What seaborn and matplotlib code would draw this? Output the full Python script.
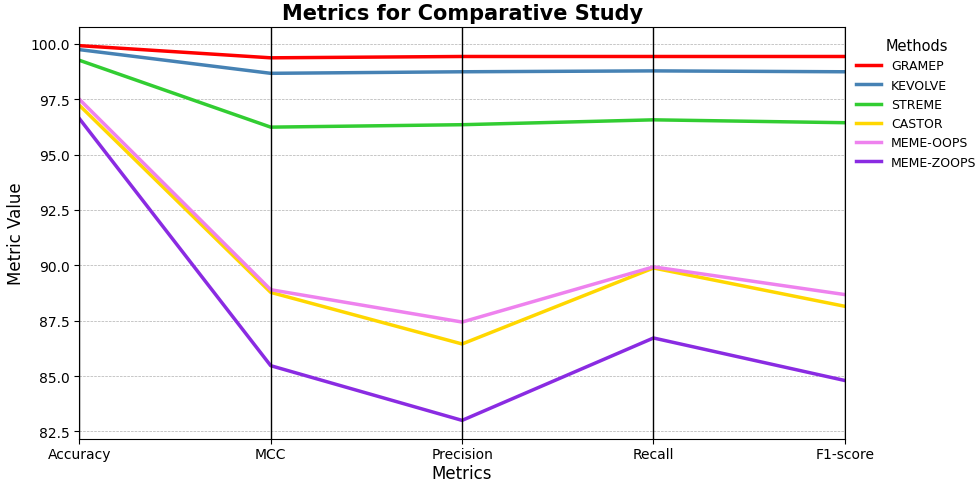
import matplotlib
matplotlib.use("Agg")
import matplotlib.pyplot as plt
import seaborn as sns
import pandas as pd

metrics = ["Accuracy", "MCC", "Precision", "Recall", "F1-score"]
methods = ["GRAMEP", "KEVOLVE", "STREME", "CASTOR", "MEME-OOPS", "MEME-ZOOPS"]
gramep = [99.92, 99.37, 99.43, 99.43, 99.43]
kevolve = [99.74, 98.67, 98.74, 98.78, 98.74]
streme = [99.26, 96.24, 96.35, 96.57, 96.44]
castor = [97.23, 88.78, 86.45, 89.88, 88.15]
meme_oops = [97.50, 88.90, 87.44, 89.93, 88.68]
meme_zoops = [96.63, 85.47, 83.00, 86.72, 84.80]
colors = ["#ff0000", "#4682b4", "#32cd32", "#ffd700", "#ee82ee", "#8a2be2"]

series = [gramep, kevolve, streme, castor, meme_oops, meme_zoops]
rows = []
for m, vals in zip(methods, series):
    for i, (k, v) in enumerate(zip(metrics, vals)):
        rows.append({"Methods": m, "pos": i, "Metric": k, "Value": v})
df = pd.DataFrame(rows)

plt.rcParams["font.family"] = ["DejaVu Sans"]
fig, ax = plt.subplots(figsize=(9.79, 4.81), dpi=100)
sns.lineplot(data=df, x="pos", y="Value", hue="Methods", hue_order=methods,
             palette=dict(zip(methods, colors)), linewidth=2.5, sort=False,
             estimator=None, ax=ax)
for i in range(len(metrics)):
    ax.axvline(i, color="black", linewidth=1)
ax.set_xlim(0, len(metrics) - 1)
ax.set_xticks(range(len(metrics)))
ax.set_xticklabels(metrics, fontsize=10)
ax.tick_params(axis="x", pad=2.5)
ax.tick_params(axis="y", labelsize=10)
ax.yaxis.grid(True, linestyle="--", linewidth=0.5, color="#b0b0b0")
ax.xaxis.grid(False)
ax.set_xlabel("Metrics", fontsize=12, labelpad=1.5)
ax.set_ylabel("Metric Value", fontsize=12)
ax.set_title("Metrics for Comparative Study", fontsize=15, fontweight="bold")
leg = ax.legend(title="Methods", loc="upper left", bbox_to_anchor=(1.0, 1.0),
                frameon=False, fontsize=9, title_fontsize=10.5)
for line in leg.get_lines():
    line.set_linewidth(2.5)
fig.subplots_adjust(left=0.081, right=0.863, top=0.942, bottom=0.085)
fig.savefig("out.png", dpi=100)
